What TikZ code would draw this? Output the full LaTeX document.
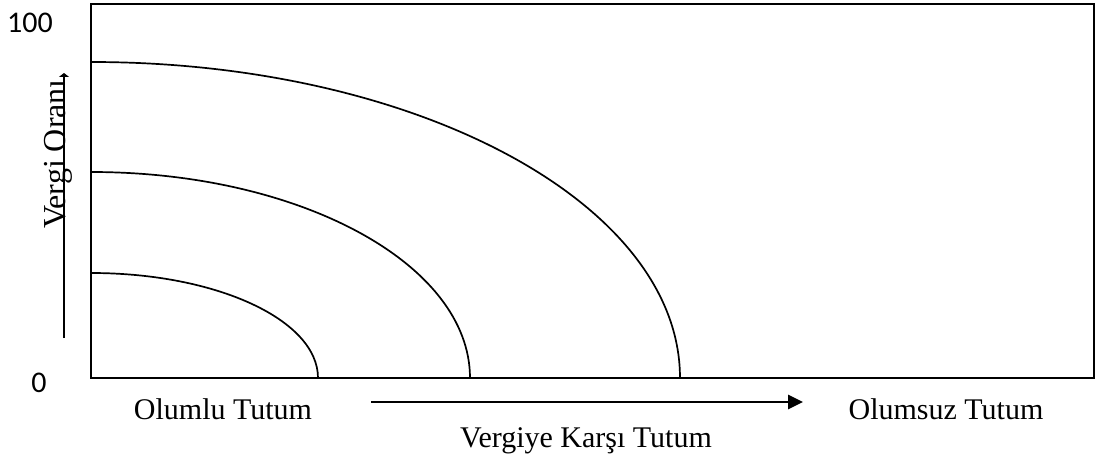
\documentclass[tikz,border=0pt]{standalone}
\usepackage{fontspec}
\setmainfont{Liberation Serif}
\newfontfamily\numfont{Carlito}
\usetikzlibrary{arrows.meta}
\begin{document}
\begin{tikzpicture}[x=1pt,y=1pt,
  lbl/.style={inner sep=0pt,font=\fontsize{30}{34}\selectfont},
  vlbl/.style={inner sep=0pt,font=\fontsize{32}{36}\selectfont},
  numlbl/.style={inner sep=0pt,font=\numfont\fontsize{30}{34}\selectfont},
  curve/.style={line width=1.7pt},
  axisarrow/.style={line width=2.7pt}]
\useasboundingbox (0,0) rectangle (1096,459);
% frame
\draw[line width=1.9pt] (91,81) rectangle (1094,455);
% curves
\draw[curve] (91,186) arc[start angle=90,end angle=0,x radius=227,y radius=105];
\draw[curve] (91,287) arc[start angle=90,end angle=0,x radius=379,y radius=206];
\draw[curve] (91,397) arc[start angle=90,end angle=0,x radius=589,y radius=316];
% labels
\node[numlbl] (hundred) at (30,436) {100};
\node[numlbl] (zero) at (39,76) {0};
\node[lbl,anchor=base] (pos) at (223,40) {Olumlu Tutum};
\node[lbl,anchor=base] (neg) at (946,40) {Olumsuz Tutum};
\node[lbl,anchor=base] (att) at (586,12) {Vergiye Karşı Tutum};
\node[vlbl,rotate=90,anchor=base] (rate) at (65,305) {Vergi Oranı};
% arrows
\coordinate (vA) at (64,121);
\coordinate (vB) at (64,386);
\coordinate (hA) at (371,57);
\coordinate (hB) at (803,57);
\draw[axisarrow,-{Triangle[length=4pt,width=10pt]}] (vA) -- (vB);
\draw[axisarrow,-{Triangle[length=15pt,width=14pt]}] (hA) -- (hB);
\end{tikzpicture}
\end{document}
